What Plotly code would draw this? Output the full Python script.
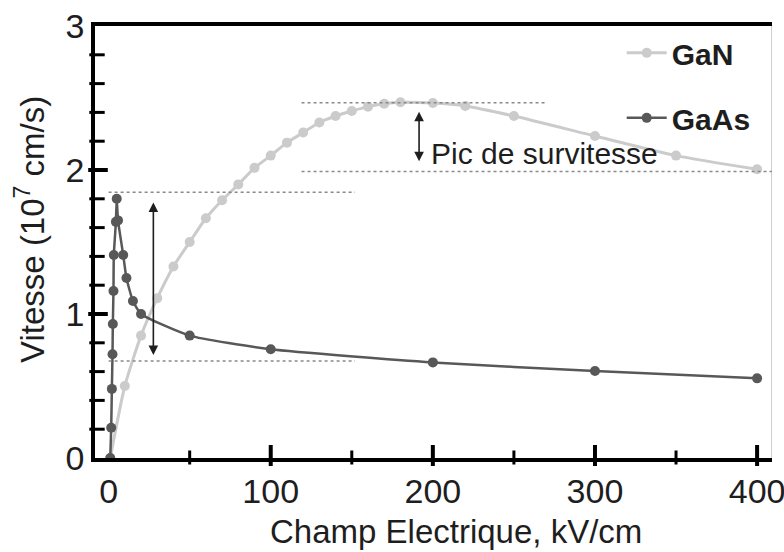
import plotly.graph_objects as go

# ---- data ----
gan_x = [1, 10, 20, 30, 40, 50, 60, 70, 80, 90, 100, 110, 120, 130, 140, 150, 160, 170, 180, 200, 220, 250, 300, 350, 400]
gan_y = [0.0, 0.50, 0.85, 1.11, 1.33, 1.50, 1.665, 1.79, 1.90, 2.015, 2.10, 2.19, 2.26, 2.33, 2.375, 2.41, 2.44, 2.46, 2.47, 2.465, 2.445, 2.375, 2.236, 2.10, 2.005]

gaas_x = [1.0, 1.6, 2.0, 2.4, 2.6, 3.0, 3.2, 4.5, 5.0, 5.8, 9.0, 11.0, 15.0, 20.0, 50, 100, 200, 300, 400]
gaas_y = [0.0, 0.21, 0.48, 0.72, 0.93, 1.16, 1.41, 1.64, 1.80, 1.65, 1.41, 1.25, 1.09, 1.00, 0.85, 0.755, 0.664, 0.604, 0.553]

# reference levels (dotted) and arrows
gaas_peak, gaas_sat = 1.845, 0.674
gan_peak, gan_sat = 2.467, 1.99
arrow_gaas_x, arrow_gaas = 27.6, (0.705, 1.775)
arrow_gan_x, arrow_gan = 191.5, (2.05, 2.405)

# axis ticks
x_major = [100, 200, 300, 400]
x_minor = [50, 150, 250, 350]
y_major = [1, 2]
y_minor = [0.2, 0.4, 0.6, 0.8, 1.2, 1.4, 1.6, 1.8, 2.2, 2.4, 2.6, 2.8]

x_range = [-8.4, 409.2]
y_range = [0, 3]

FONT = "Liberation Sans, Arial, sans-serif"
TXT = "#1e1e1e"

W, H = 784, 552
M = dict(l=95, r=12, t=26, b=94)
px_x = (W - M["l"] - M["r"]) / (x_range[1] - x_range[0])   # pixels per kV/cm
px_y = (H - M["t"] - M["b"]) / (y_range[1] - y_range[0])   # pixels per unit

fig = go.Figure()
fig.add_trace(go.Scatter(
    x=gan_x, y=gan_y, name="GaN", legendgroup="gan",
    mode="lines+markers",
    line=dict(color="#cbcbcb", width=3, shape="spline", smoothing=0.6),
    marker=dict(color="#cbcbcb", size=10),
))
fig.add_trace(go.Scatter(
    x=gaas_x, y=gaas_y, name="GaAs", legendgroup="gaas",
    mode="lines+markers",
    line=dict(color="#585858", width=2.5, shape="spline", smoothing=0.5),
    marker=dict(color="#585858", size=10),
))

# right frame edge (light grey)
fig.add_trace(go.Scatter(x=[x_range[1], x_range[1]], y=y_range, mode="lines",
                         line=dict(color="#cfcfcf", width=2), cliponaxis=False,
                         showlegend=False, hoverinfo="skip"))

# tick marks (axis decoration) straddling the axis lines, mostly inside
for vals, size, lw, shift in [(y_major, 14, 4, 3), (y_minor, 11, 3, 2)]:
    fig.add_trace(go.Scatter(
        x=[x_range[0] + shift / px_x] * len(vals), y=vals, mode="markers",
        cliponaxis=False,
        marker=dict(symbol="line-ew", size=size, line=dict(color="black", width=lw)),
        showlegend=False, hoverinfo="skip"))
for vals, size, lw, shift in [(x_major, 15, 4, 2.5), (x_minor, 10, 3, 0.5)]:
    fig.add_trace(go.Scatter(
        x=vals, y=[y_range[0] + shift / px_y] * len(vals), mode="markers",
        cliponaxis=False,
        marker=dict(symbol="line-ns", size=size, line=dict(color="black", width=lw)),
        showlegend=False, hoverinfo="skip"))

# dotted guide lines
dot = dict(color="#8a8a8a", width=1.5, dash="dot")
fig.add_shape(type="line", x0=0, x1=152, y0=gaas_peak, y1=gaas_peak, line=dot)
fig.add_shape(type="line", x0=0, x1=152, y0=gaas_sat, y1=gaas_sat, line=dot)
fig.add_shape(type="line", x0=119, x1=270, y0=gan_peak, y1=gan_peak, line=dot)
fig.add_shape(type="line", x0=119, x1=409.2, y0=gan_sat, y1=gan_sat, line=dot)

# double-headed arrows
for ax_x, (ylo, yhi) in [(arrow_gaas_x, arrow_gaas), (arrow_gan_x, arrow_gan)]:
    fig.add_annotation(x=ax_x, y=yhi, ax=ax_x, ay=ylo, xref="x", yref="y",
                       axref="x", ayref="y", text="", showarrow=True,
                       arrowhead=2, arrowside="end+start", arrowsize=1.2,
                       arrowwidth=1.6, arrowcolor="#1e1e1e")

fig.add_annotation(x=197.5, y=2.118, xref="x", yref="y", text="Pic de survitesse",
                   showarrow=False, xanchor="left", yanchor="middle",
                   font=dict(family=FONT, size=30, color=TXT))

# axis titles
fig.add_annotation(x=0.533, y=-0.171, xref="paper", yref="paper",
                   text="Champ Electrique, kV/cm", showarrow=False,
                   xanchor="center", yanchor="middle",
                   font=dict(family=FONT, size=33, color=TXT))
fig.add_annotation(x=-0.096, y=0.528, xref="paper", yref="paper",
                   text="Vitesse (10<sup>7</sup> cm/s)", showarrow=False,
                   textangle=-90, xanchor="center", yanchor="middle",
                   font=dict(family=FONT, size=33, color=TXT))

fig.update_xaxes(range=x_range, showline=True, linecolor="black", linewidth=3.5,
                 mirror=True, showgrid=False, zeroline=False, automargin=False,
                 tickmode="linear", tick0=0, dtick=100, ticks="",
                 ticklabeloverflow="allow",
                 tickfont=dict(family=FONT, size=34, color=TXT))
fig.update_yaxes(range=y_range, showline=True, linecolor="black", linewidth=3.5,
                 showgrid=False, zeroline=False, automargin=False,
                 tickmode="linear", tick0=0, dtick=1, ticks="",
                 tickfont=dict(family=FONT, size=34, color=TXT))

fig.update_layout(
    width=W, height=H,
    margin=M,
    paper_bgcolor="white", plot_bgcolor="white",
    showlegend=True,
    legend=dict(x=0.778, y=0.998, xanchor="left", yanchor="top",
                bgcolor="rgba(0,0,0,0)", tracegroupgap=23,
                font=dict(family=FONT, size=30, color=TXT, weight="bold"),
                itemwidth=40),
)

fig.write_html("out.html")
